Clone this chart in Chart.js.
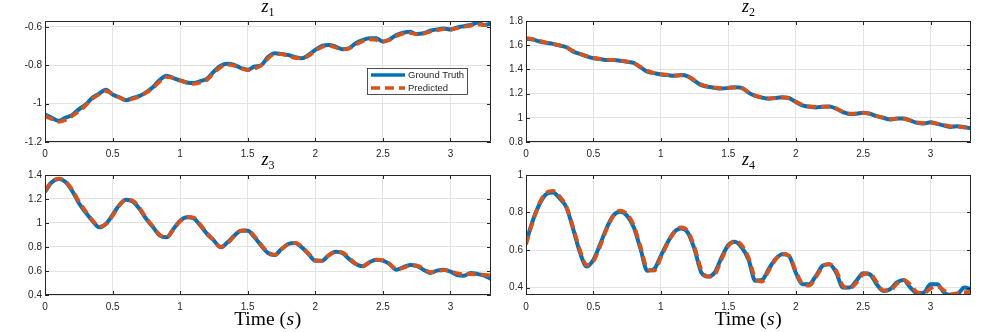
<!DOCTYPE html>
<html>
<head>
<meta charset="utf-8">
<script src="https://cdn.jsdelivr.net/npm/chart.js@4.4.0/dist/chart.umd.min.js"></script>
<style>
  html, body { margin: 0; padding: 0; background: #fff; }
  #wrap { position: relative; width: 997px; height: 332px; overflow: hidden; }
  canvas { position: absolute; }
</style>
</head>
<body>
<div id="wrap">
  <canvas id="c1" width="497" height="166" style="left:0;top:0"></canvas>
  <canvas id="c2" width="500" height="166" style="left:497px;top:0"></canvas>
  <canvas id="c3" width="497" height="186" style="left:0;top:146px"></canvas>
  <canvas id="c4" width="500" height="186" style="left:497px;top:146px"></canvas>
</div>
<script>
// time samples (s)
const TIME = [0, 0.05, 0.1, 0.15, 0.2, 0.25, 0.3, 0.35, 0.4, 0.45, 0.5, 0.55, 0.6, 0.65, 0.7, 0.75, 0.8, 0.85, 0.9, 0.95,
  1, 1.05, 1.1, 1.15, 1.2, 1.25, 1.3, 1.35, 1.4, 1.45, 1.5, 1.55, 1.6, 1.65, 1.7, 1.75, 1.8, 1.85, 1.9, 1.95,
  2, 2.05, 2.1, 2.15, 2.2, 2.25, 2.3, 2.35, 2.4, 2.45, 2.5, 2.55, 2.6, 2.65, 2.7, 2.75, 2.8, 2.85, 2.9, 2.95,
  3, 3.05, 3.1, 3.15, 3.2, 3.25, 3.3];
const X_TICKS = [0, 0.5, 1, 1.5, 2, 2.5, 3];

const Z1_TRUE = [-1.057, -1.074, -1.09, -1.074, -1.06, -1.03, -1.005, -0.97, -0.948, -0.928,
  -0.953, -0.967, -0.983, -0.97, -0.96, -0.94, -0.914, -0.876, -0.855, -0.867,
  -0.88, -0.89, -0.893, -0.883, -0.87, -0.833, -0.803, -0.793, -0.798, -0.815,
  -0.824, -0.807, -0.8, -0.758, -0.738, -0.742, -0.747, -0.758, -0.764, -0.747,
  -0.72, -0.7, -0.695, -0.703, -0.717, -0.712, -0.686, -0.67, -0.66, -0.66,
  -0.677, -0.666, -0.643, -0.631, -0.626, -0.638, -0.634, -0.621, -0.614, -0.609,
  -0.614, -0.603, -0.597, -0.591, -0.579, -0.591, -0.583];
const Z1_PRED = [-1.065, -1.08, -1.095, -1.085, -1.065, -1.04, -1.01, -0.975, -0.952, -0.935,
  -0.95, -0.968, -0.982, -0.975, -0.962, -0.943, -0.918, -0.885, -0.862, -0.866,
  -0.878, -0.892, -0.897, -0.89, -0.875, -0.84, -0.81, -0.797, -0.802, -0.816,
  -0.825, -0.818, -0.8, -0.765, -0.742, -0.743, -0.752, -0.762, -0.764, -0.752,
  -0.725, -0.705, -0.698, -0.708, -0.718, -0.713, -0.692, -0.675, -0.665, -0.668,
  -0.678, -0.668, -0.648, -0.636, -0.632, -0.638, -0.636, -0.625, -0.618, -0.612,
  -0.615, -0.607, -0.6, -0.594, -0.588, -0.59, -0.588];
const Z1_TICKS = [-1.2, -1, -0.8, -0.6];

const Z2_TRUE = [1.653, 1.647, 1.631, 1.619, 1.611, 1.597, 1.583, 1.547, 1.528, 1.508,
  1.492, 1.486, 1.478, 1.478, 1.472, 1.464, 1.453, 1.417, 1.381, 1.369,
  1.358, 1.353, 1.347, 1.353, 1.342, 1.306, 1.269, 1.256, 1.247, 1.242,
  1.247, 1.253, 1.247, 1.208, 1.181, 1.167, 1.158, 1.164, 1.169, 1.164,
  1.131, 1.103, 1.092, 1.086, 1.092, 1.094, 1.075, 1.047, 1.031, 1.033,
  1.042, 1.033, 1.014, 1.0, 0.986, 0.994, 0.994, 0.978, 0.958, 0.953,
  0.964, 0.95, 0.936, 0.925, 0.931, 0.922, 0.914];
const Z2_PRED = [1.658, 1.65, 1.636, 1.622, 1.61, 1.598, 1.582, 1.552, 1.53, 1.51,
  1.495, 1.487, 1.481, 1.478, 1.473, 1.465, 1.452, 1.42, 1.388, 1.37,
  1.36, 1.354, 1.35, 1.35, 1.343, 1.31, 1.275, 1.258, 1.25, 1.245,
  1.247, 1.25, 1.245, 1.212, 1.185, 1.168, 1.16, 1.163, 1.167, 1.162,
  1.135, 1.107, 1.094, 1.09, 1.092, 1.092, 1.078, 1.05, 1.035, 1.034,
  1.04, 1.034, 1.016, 1.0, 0.99, 0.993, 0.992, 0.978, 0.962, 0.955,
  0.96, 0.952, 0.94, 0.93, 0.928, 0.922, 0.915];
const Z2_TICKS = [0.8, 1, 1.2, 1.4, 1.6, 1.8];

const Z3_TRUE = [1.26, 1.339, 1.367, 1.344, 1.27, 1.167, 1.089, 1.019, 0.964, 0.992,
  1.067, 1.15, 1.194, 1.178, 1.117, 1.033, 0.964, 0.894, 0.881, 0.95,
  1.019, 1.047, 1.039, 0.978, 0.908, 0.853, 0.797, 0.839, 0.894, 0.936,
  0.936, 0.881, 0.811, 0.75, 0.733, 0.783, 0.825, 0.833, 0.797, 0.742,
  0.686, 0.686, 0.733, 0.761, 0.75, 0.7, 0.658, 0.639, 0.672, 0.694,
  0.686, 0.658, 0.611, 0.631, 0.65, 0.644, 0.611, 0.583, 0.603, 0.611,
  0.594, 0.567, 0.561, 0.583, 0.575, 0.561, 0.533];
const Z3_PRED = [1.27, 1.345, 1.37, 1.35, 1.28, 1.18, 1.1, 1.025, 0.97, 0.99,
  1.06, 1.145, 1.195, 1.185, 1.125, 1.04, 0.97, 0.9, 0.88, 0.945,
  1.015, 1.05, 1.045, 0.985, 0.915, 0.855, 0.8, 0.83, 0.89, 0.935,
  0.94, 0.89, 0.82, 0.755, 0.735, 0.78, 0.825, 0.835, 0.805, 0.745,
  0.69, 0.685, 0.73, 0.76, 0.755, 0.71, 0.66, 0.64, 0.67, 0.695,
  0.69, 0.66, 0.615, 0.625, 0.645, 0.645, 0.62, 0.59, 0.598, 0.608,
  0.6, 0.58, 0.572, 0.575, 0.572, 0.568, 0.565];
const Z3_TICKS = [0.4, 0.6, 0.8, 1, 1.2, 1.4];

const Z4_TRUE = [0.64, 0.756, 0.844, 0.898, 0.907, 0.875, 0.827, 0.711, 0.587, 0.512,
  0.548, 0.631, 0.72, 0.786, 0.804, 0.782, 0.72, 0.604, 0.489, 0.498,
  0.569, 0.64, 0.697, 0.715, 0.693, 0.604, 0.48, 0.459, 0.48, 0.56,
  0.626, 0.644, 0.613, 0.55, 0.436, 0.44, 0.498, 0.551, 0.578, 0.569,
  0.48, 0.418, 0.418, 0.462, 0.516, 0.524, 0.48, 0.40, 0.40, 0.436,
  0.476, 0.47, 0.418, 0.382, 0.391, 0.427, 0.44, 0.40, 0.369, 0.373,
  0.418, 0.418, 0.373, 0.36, 0.364, 0.40, 0.391];
const Z4_PRED = [0.63, 0.75, 0.85, 0.905, 0.915, 0.885, 0.83, 0.72, 0.6, 0.52,
  0.54, 0.62, 0.715, 0.785, 0.81, 0.79, 0.73, 0.615, 0.5, 0.49,
  0.56, 0.635, 0.695, 0.72, 0.7, 0.615, 0.495, 0.458, 0.47, 0.55,
  0.62, 0.648, 0.625, 0.56, 0.45, 0.432, 0.49, 0.548, 0.58, 0.57,
  0.49, 0.42, 0.41, 0.455, 0.51, 0.525, 0.49, 0.41, 0.395, 0.425,
  0.47, 0.475, 0.43, 0.385, 0.385, 0.42, 0.44, 0.415, 0.375, 0.37,
  0.395, 0.405, 0.385, 0.365, 0.37, 0.375, 0.375];
const Z4_TICKS = [0.4, 0.6, 0.8, 1];

const LEGEND = ['Ground Truth', 'Predicted'];

const BLUE = '#0072BD';
const ORANGE = '#D95319';
const AXIS = '#262626';
const SERIF = '"Liberation Serif", "Times New Roman", serif';
const SANS = '"Liberation Sans", Arial, sans-serif';

// box round the axes, with inward ticks on all four sides (matlab style)
const framePlugin = {
  id: 'frame',
  afterDatasetsDraw(chart) {
    const { ctx, chartArea: a, scales: { x, y } } = chart;
    ctx.save();
    ctx.strokeStyle = AXIS;
    ctx.lineWidth = 1;
    ctx.beginPath();
    ctx.rect(a.left + 0.5, a.top + 0.5, a.right - a.left - 1, a.bottom - a.top - 1);
    x.ticks.forEach((t) => {
      const px = Math.round(x.getPixelForValue(t.value)) + 0.5;
      ctx.moveTo(px, a.bottom); ctx.lineTo(px, a.bottom - 4);
      ctx.moveTo(px, a.top); ctx.lineTo(px, a.top + 4);
    });
    y.ticks.forEach((t) => {
      const py = Math.round(y.getPixelForValue(t.value)) + 0.5;
      ctx.moveTo(a.left, py); ctx.lineTo(a.left + 4, py);
      ctx.moveTo(a.right, py); ctx.lineTo(a.right - 4, py);
    });
    ctx.stroke();
    ctx.restore();
  },
};

// z_n title and "Time (s)" label
const mathPlugin = {
  id: 'mathLabels',
  afterDraw(chart, args, opts) {
    const { ctx, chartArea: a } = chart;
    const cx = (a.left + a.right) / 2;
    ctx.save();
    ctx.fillStyle = '#000';
    ctx.textBaseline = 'alphabetic';
    ctx.textAlign = 'left';
    ctx.font = 'italic 18px ' + SERIF;
    const wz = ctx.measureText('z').width;
    ctx.font = '12px ' + SERIF;
    const ws = ctx.measureText(opts.sub).width;
    const x0 = cx - (wz + ws) / 2;
    const by = a.top - opts.titleGap;
    ctx.font = 'italic 18px ' + SERIF;
    ctx.fillText('z', x0, by);
    ctx.font = '12px ' + SERIF;
    ctx.fillText(opts.sub, x0 + wz, by + 4);

    if (opts.xlabel) {
      const parts = [['Time (', ''], ['s', 'italic '], [')', '']];
      const f = '19.5px ';
      let w = 0;
      parts.forEach((p) => { ctx.font = p[1] + f + SERIF; w += ctx.measureText(p[0]).width + 0.6; });
      let px = cx - w / 2;
      const ly = a.bottom + 30;
      parts.forEach((p) => {
        ctx.font = p[1] + f + SERIF;
        ctx.fillText(p[0], px, ly);
        px += ctx.measureText(p[0]).width + 0.6;
      });
    }
    ctx.restore();
  },
};

// boxed legend inside the z1 axes
const boxLegendPlugin = {
  id: 'boxLegend',
  afterDraw(chart, args, opts) {
    if (!opts.show) return;
    const { ctx, chartArea: a } = chart;
    const l = a.left + 322, t = a.top + 47, w = 100, h = 26;
    ctx.save();
    ctx.fillStyle = '#fff';
    ctx.fillRect(l, t, w, h);
    ctx.strokeStyle = AXIS;
    ctx.lineWidth = 0.8;
    ctx.strokeRect(l + 0.5, t + 0.5, w, h);
    chart.data.datasets.forEach((ds, i) => {
      const yy = t + 7 + i * 13;
      ctx.strokeStyle = ds.borderColor;
      ctx.lineWidth = 3.5;
      ctx.setLineDash(ds.borderDash || []);
      ctx.beginPath();
      ctx.moveTo(l + 4, yy); ctx.lineTo(l + 38, yy);
      ctx.stroke();
      ctx.setLineDash([]);
      ctx.fillStyle = AXIS;
      ctx.font = '9.5px ' + SANS;
      ctx.textBaseline = 'middle';
      ctx.fillText(ds.label, l + 41, yy + 0.5);
    });
    ctx.restore();
  },
};

function pairs(vals) {
  return vals.map((v, i) => ({ x: TIME[i], y: v }));
}

function makeChart(id, truth, pred, yMin, yMax, yTicks, lay) {
  return new Chart(document.getElementById(id), {
    type: 'line',
    data: {
      datasets: [
        { label: LEGEND[0], data: pairs(truth), borderColor: BLUE, borderWidth: 4, order: 2,
          pointRadius: 0, cubicInterpolationMode: 'monotone', fill: false },
        { label: LEGEND[1], data: pairs(pred), borderColor: ORANGE, borderWidth: 3.8, order: 1,
          borderDash: [9, 5], pointRadius: 0, cubicInterpolationMode: 'monotone', fill: false },
      ],
    },
    options: {
      responsive: false,
      animation: false,
      events: [],
      layout: { padding: { left: 0, top: lay.top, right: lay.right, bottom: 0 } },
      plugins: {
        legend: { display: false },
        tooltip: { enabled: false },
        mathLabels: { sub: lay.sub, titleGap: lay.titleGap, xlabel: lay.xlabel },
        boxLegend: { show: !!lay.legend },
      },
      scales: {
        x: {
          type: 'linear', min: 0, max: 3.3,
          afterBuildTicks: (s) => { s.ticks = X_TICKS.map((v) => ({ value: v })); },
          afterFit: (s) => { s.height = lay.xh; },
          grid: { color: '#e3e3e3', drawTicks: false },
          border: { display: false },
          ticks: { color: AXIS, padding: 6, maxRotation: 0, font: { family: SANS, size: 10 },
            callback: (v) => String(v) },
        },
        y: {
          type: 'linear', min: yMin, max: yMax,
          afterBuildTicks: (s) => { s.ticks = yTicks.map((v) => ({ value: v })); },
          afterFit: (s) => { s.width = lay.yw; },
          grid: { color: '#e3e3e3', drawTicks: false },
          border: { display: false },
          ticks: { color: AXIS, padding: 3, font: { family: SANS, size: 10 },
            callback: (v) => String(v) },
        },
      },
    },
    plugins: [framePlugin, mathPlugin, boxLegendPlugin],
  });
}

makeChart('c1', Z1_TRUE, Z1_PRED, -1.2, -0.57, Z1_TICKS,
  { top: 21, right: 6, yw: 45, xh: 24, sub: '1', titleGap: 9, legend: true });
makeChart('c2', Z2_TRUE, Z2_PRED, 0.8, 1.8, Z2_TICKS,
  { top: 21, right: 26, yw: 29, xh: 24, sub: '2', titleGap: 9 });
makeChart('c3', Z3_TRUE, Z3_PRED, 0.4, 1.4, Z3_TICKS,
  { top: 29, right: 6, yw: 45, xh: 37, sub: '3', titleGap: 10, xlabel: true });
makeChart('c4', Z4_TRUE, Z4_PRED, 0.36, 1, Z4_TICKS,
  { top: 29, right: 26, yw: 29, xh: 37, sub: '4', titleGap: 10, xlabel: true });
</script>
</body>
</html>
